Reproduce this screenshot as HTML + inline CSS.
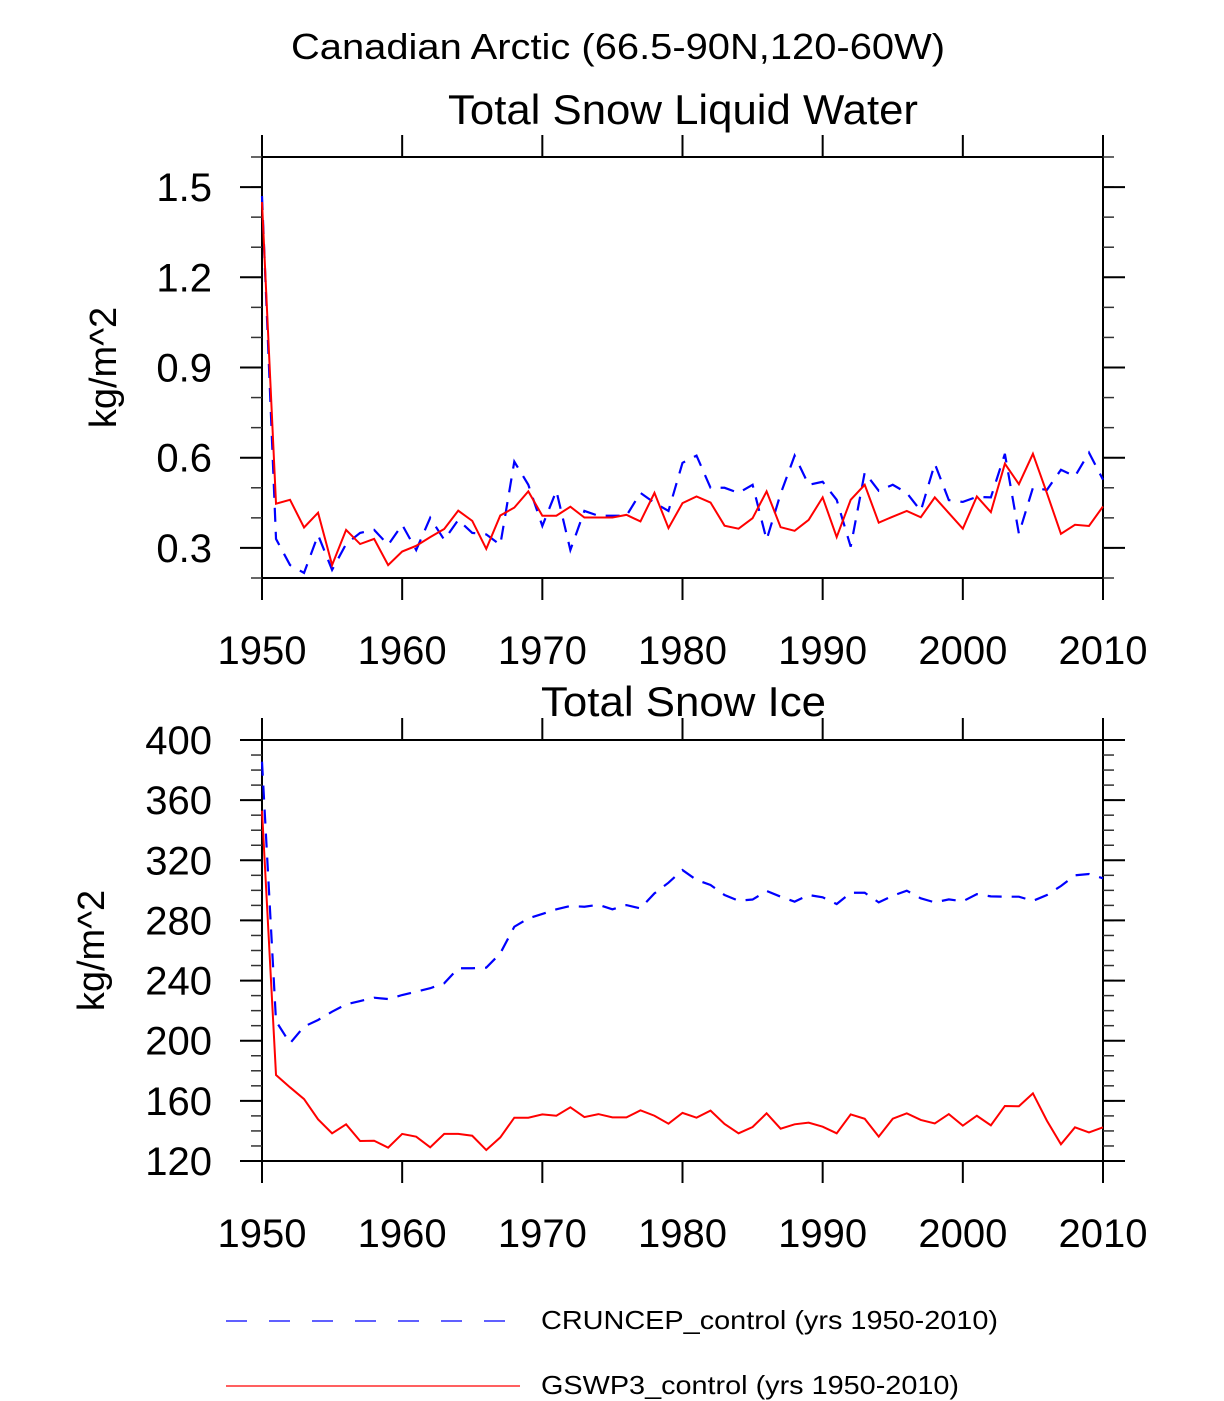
<!DOCTYPE html>
<html><head><meta charset="utf-8"><style>html,body{margin:0;padding:0;background:#fff}svg{display:block}text{font-family:"Liberation Sans",sans-serif;fill:#000}</style></head>
<body>
<svg id="chart" width="1224" height="1401" viewBox="0 0 1224 1401" xmlns="http://www.w3.org/2000/svg">
<text x="291" y="59" font-size="36" textLength="654" lengthAdjust="spacingAndGlyphs">Canadian Arctic (66.5-90N,120-60W)</text>
<text x="448" y="124" font-size="42" textLength="470" lengthAdjust="spacingAndGlyphs">Total Snow Liquid Water</text>
<text x="541" y="716" font-size="42" textLength="285" lengthAdjust="spacingAndGlyphs">Total Snow Ice</text>
<g id="top"></g>
<g id="bot"></g>
<g>
<line x1="226" y1="1321" x2="512" y2="1321" stroke="#00f" stroke-width="1.2" stroke-dasharray="21 22"/>
<text x="541" y="1329" font-size="26" textLength="457" lengthAdjust="spacingAndGlyphs">CRUNCEP_control (yrs 1950-2010)</text>
<line x1="226" y1="1386" x2="520" y2="1386" stroke="#f00" stroke-width="1.2"/>
<text x="541" y="1394" font-size="26" textLength="418" lengthAdjust="spacingAndGlyphs">GSWP3_control (yrs 1950-2010)</text>
</g>
</svg>
<script>
const years = Array.from({length:61},(_, i)=>1950+i);
const xTicks = [1950,1960,1970,1980,1990,2000,2010];
const topYTicks = [0.3,0.6,0.9,1.2,1.5];
const topYTickLabels = ["0.3","0.6","0.9","1.2","1.5"];
const botYTicks = [120,160,200,240,280,320,360,400];
const botYTickLabels = ["120","160","200","240","280","320","360","400"];
const liqCRU = [1.47,0.33,0.243,0.217,0.343,0.227,0.313,0.35,0.36,0.31,0.377,0.293,0.4,0.327,0.393,0.35,0.345,0.31,0.587,0.51,0.373,0.49,0.293,0.423,0.407,0.407,0.407,0.483,0.45,0.423,0.583,0.607,0.5,0.5,0.483,0.51,0.327,0.48,0.607,0.51,0.52,0.46,0.304,0.551,0.49,0.51,0.483,0.423,0.58,0.459,0.453,0.47,0.468,0.613,0.347,0.5,0.493,0.56,0.538,0.617,0.527];
const liqGSW = [1.45,0.447,0.46,0.368,0.417,0.243,0.36,0.313,0.33,0.243,0.288,0.307,0.336,0.363,0.424,0.39,0.297,0.408,0.434,0.488,0.407,0.407,0.437,0.401,0.401,0.401,0.41,0.388,0.483,0.366,0.449,0.471,0.451,0.374,0.364,0.399,0.488,0.369,0.357,0.393,0.468,0.336,0.46,0.51,0.384,0.404,0.423,0.402,0.468,0.416,0.364,0.471,0.419,0.58,0.512,0.613,0.482,0.347,0.377,0.373,0.438];
const iceCRU = [385.6,213,198.3,209.4,213.8,219.3,224.2,226.4,228.6,227.7,230.4,232.6,234.9,238.2,248.2,248.2,248.6,258.1,275.8,281.4,284.3,287.4,289.6,289.1,290.4,287.4,290.2,288,298,305.1,313.5,306.9,303.6,296.9,293.1,293.9,299.6,295.8,292.5,296.9,295.4,290.9,298.4,298.4,292,296.4,299.8,294.7,292,294,292.7,297.5,296,295.8,295.8,293,296.9,302.9,310,310.9,308];
const iceGSW = [353,177.2,169,161.2,147.7,138.4,144.4,133.3,133.5,128.9,138,136.2,129.1,138,138,136.8,127.3,135.7,148.8,148.8,151,150.1,155.7,149.2,151.2,149,149,153.7,150.1,144.8,152,148.8,153.5,144.6,138.4,142.6,151.7,141.5,144.4,145.5,142.8,138.4,151,148.1,136.2,148.1,151.7,147.3,145,151.2,143.5,150.1,143.7,156.6,156.4,165,146.8,131.1,142.4,139,142.4];

const NS='http://www.w3.org/2000/svg';
function mk(parent,tag,attrs){const e=document.createElementNS(NS,tag);for(const k in attrs)e.setAttribute(k,attrs[k]);parent.appendChild(e);return e;}
function panel(g,cfg){
  const L=262,R=1103,T=cfg.top,B=cfg.bottom;
  const xs=v=>L+(v-1950)*(R-L)/60;
  const ys=v=>B-(v-cfg.ymin)*(B-T)/(cfg.ymax-cfg.ymin);
  const box=mk(g,'rect',{x:L,y:T,width:R-L,height:B-T,fill:'none',stroke:'#000','stroke-width':2});
  
  
  // x ticks
  for(let y=1950;y<=2010;y+=10){
    const x=xs(y);
    const t1=mk(g,'line',{x1:x,y1:T-22,x2:x,y2:T,stroke:'#000','stroke-width':2});
    
    
    const t2=mk(g,'line',{x1:x,y1:B,x2:x,y2:B+22,stroke:'#000','stroke-width':2});
    
    
  }
  xTicks.forEach(v=>{
    const t=mk(g,'text',{x:xs(v),y:B+86,'font-size':40,'text-anchor':'middle'});
    t.textContent=String(v);
    
    
  });
  // minor y ticks
  for(let v=cfg.ymin;v<=cfg.ymax+1e-9;v+=cfg.minor){
    const y=ys(v);
    const a=mk(g,'line',{x1:L-11,y1:y,x2:L,y2:y,stroke:'#333','stroke-width':1.5});
    
    
    const b=mk(g,'line',{x1:R,y1:y,x2:R+11,y2:y,stroke:'#333','stroke-width':1.5});
    
    
  }
  cfg.ticks.forEach((v,i)=>{
    const y=ys(v);
    const a=mk(g,'line',{x1:L-22,y1:y,x2:L,y2:y,stroke:'#000','stroke-width':2});
    
    
    const b=mk(g,'line',{x1:R,y1:y,x2:R+22,y2:y,stroke:'#000','stroke-width':2});
    
    
    const t=mk(g,'text',{x:cfg.labelX,y:y+14,'font-size':40,'text-anchor':'end'});
    t.textContent=cfg.labels[i];
    
    
  });
  const yt=mk(g,'text',{x:0,y:0,'font-size':38,'text-anchor':'middle',transform:`translate(${cfg.titleX},${(T+B)/2}) rotate(-90)`});
  yt.textContent='kg/m^2';
  
  
  const p1=mk(g,'polyline',{points:cfg.cru.map((v,i)=>xs(years[i])+','+ys(v)).join(' '),fill:'none',stroke:'#00f','stroke-width':2.2,'stroke-dasharray':'14 10'});
  
  
  const p2=mk(g,'polyline',{points:cfg.gsw.map((v,i)=>xs(years[i])+','+ys(v)).join(' '),fill:'none',stroke:'#f00','stroke-width':2});
  
  
}
panel(document.getElementById('top'),{name:'top',top:157,bottom:578,ymin:0.2,ymax:1.6,minor:0.1,ticks:topYTicks,labels:topYTickLabels,labelX:212,titleX:116,cru:liqCRU,gsw:liqGSW});
panel(document.getElementById('bot'),{name:'bottom',top:740,bottom:1161,ymin:120,ymax:400,minor:10,ticks:botYTicks,labels:botYTickLabels,labelX:212,titleX:104,cru:iceCRU,gsw:iceGSW});
</script>
</body></html>
